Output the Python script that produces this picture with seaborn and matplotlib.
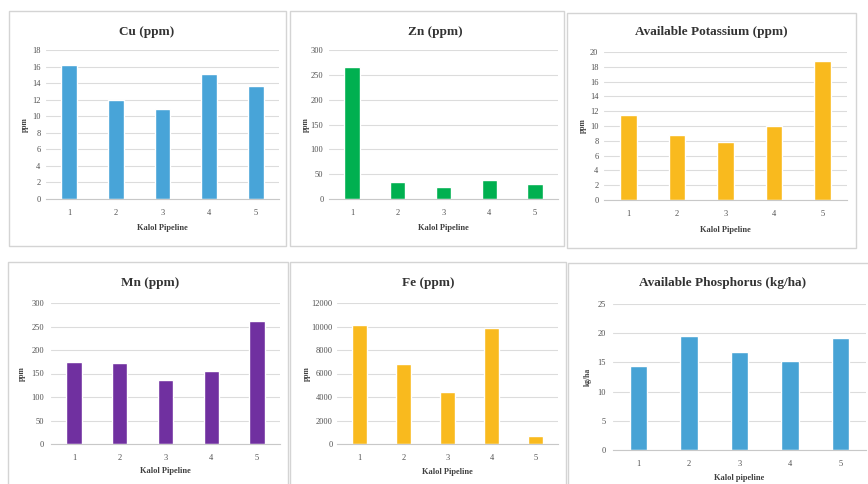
import matplotlib
matplotlib.use("Agg")
import matplotlib.pyplot as plt
import seaborn as sns
import pandas as pd
from matplotlib.patches import Rectangle

# Soil parameters measured at five sampling points along the Kalol pipeline
pipeline = ["1", "2", "3", "4", "5"]
cu = [16.2, 12.0, 10.9, 15.1, 13.6]
zn = [266, 34, 24, 39, 30]
potassium = [11.5, 8.8, 7.9, 9.95, 18.8]
mn = [174, 172, 137, 156, 262]
fe = [10100, 6800, 4400, 9850, 680]
phosphorus = [14.4, 19.6, 16.8, 15.2, 19.2]

titles = ["Cu (ppm)", "Zn (ppm)", "Available Potassium (ppm)",
          "Mn (ppm)", "Fe (ppm)", "Available Phosphorus (kg/ha)"]
ylabels = ["ppm", "ppm", "ppm", "ppm", "ppm", "kg/ha"]
xlabels = ["Kalol Pipeline"] * 5 + ["Kalol pipeline"]
yticks = [list(range(0, 19, 2)), list(range(0, 301, 50)), list(range(0, 21, 2)),
          list(range(0, 301, 50)), list(range(0, 12001, 2000)), list(range(0, 26, 5))]
series = [cu, zn, potassium, mn, fe, phosphorus]

colors = ["#48A4D8", "#00B050", "#F9BA1E", "#7030A0", "#F9BA1E", "#47A3D5"]

# Layout in pixels: panel frame, plot area, title centre, label positions
W, H = 868, 484
layout = [
    dict(box=(9, 11, 286, 246), ax=(46, 50, 279, 199), title=(147, 32), xlab=228, ylab=25, ypad=4),
    dict(box=(290, 11, 564, 246), ax=(329, 50, 558, 199), title=(435, 32), xlab=228, ylab=306, ypad=4),
    dict(box=(567, 13, 856, 248), ax=(604, 52, 847, 200), title=(711, 32), xlab=230, ylab=583, ypad=4),
    dict(box=(8, 262, 288, 492), ax=(51, 303, 280, 444), title=(150, 283), xlab=471, ylab=22, ypad=5),
    dict(box=(290, 262, 566, 492), ax=(337, 303, 558, 444), title=(428, 283), xlab=472, ylab=307, ypad=3),
    dict(box=(568, 263, 872, 492), ax=(613, 304, 866, 450), title=(723, 283), xlab=478, ylab=588, ypad=5),
]

sns.set_theme(style="white")
plt.rcParams["font.family"] = ["Liberation Serif", "DejaVu Serif"]

fig = plt.figure(figsize=(W / 100, H / 100), dpi=100)
fig.patch.set_facecolor("white")

for vals, title, ylab, xlab, ticks, color, lay in zip(
        series, titles, ylabels, xlabels, yticks, colors, layout):
    bx0, by0, bx1, by1 = lay["box"]
    fig.patches.append(Rectangle((bx0 / W, 1 - by1 / H), (bx1 - bx0) / W, (by1 - by0) / H,
                                 transform=fig.transFigure, facecolor="none",
                                 edgecolor="#d4d4d4", linewidth=1.0, zorder=-1))
    x0, y0, x1, y1 = lay["ax"]
    ax = fig.add_axes([x0 / W, 1 - y1 / H, (x1 - x0) / W, (y1 - y0) / H])
    ax.set_facecolor("none")
    df = pd.DataFrame({"point": pipeline, "value": vals})
    sns.barplot(data=df, x="point", y="value", color=color, saturation=1,
                width=0.34, ax=ax)
    ax.set_xlim(-0.5, 4.5)
    ax.set_ylim(ticks[0], ticks[-1])
    ax.set_yticks(ticks)
    ax.set_xlabel("")
    ax.set_ylabel("")
    for s in ("left", "right", "top"):
        ax.spines[s].set_visible(False)
    ax.spines["bottom"].set_color("#c8c8c8")
    ax.spines["bottom"].set_linewidth(0.8)
    ax.yaxis.grid(True, color="#dcdcdc", linewidth=0.8)
    ax.set_axisbelow(True)
    ax.tick_params(axis="both", length=0, labelsize=6, colors="#505050")
    ax.tick_params(axis="x", pad=7)
    ax.tick_params(axis="y", pad=lay["ypad"])

    tx, ty = lay["title"]
    fig.text(tx / W, 1 - ty / H, title, ha="center", va="center",
             fontsize=9.5, fontweight="bold", color="#333333")
    fig.text((x0 + x1) / 2 / W, 1 - lay["xlab"] / H, xlab, ha="center", va="center",
             fontsize=6, fontweight="bold", color="#404040")
    fig.text(lay["ylab"] / W, 1 - (y0 + y1) / 2 / H, ylab, ha="center", va="center",
             rotation=90, fontsize=5.5, fontweight="bold", color="#404040")

fig.savefig("out.png", dpi=100, facecolor="white")
